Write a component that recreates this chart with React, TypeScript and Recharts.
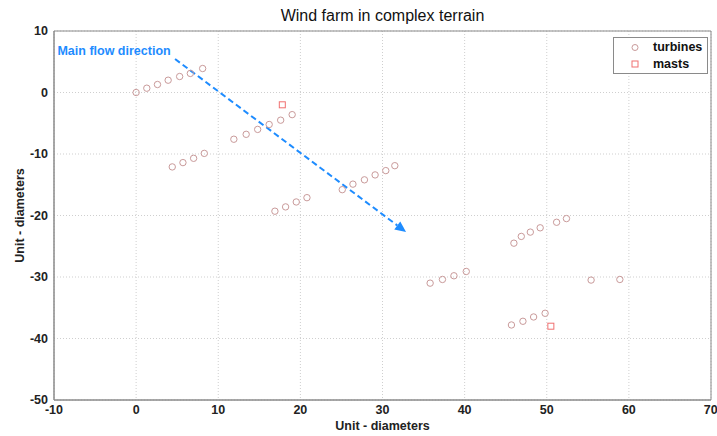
import React from 'react';
import {
  ScatterChart, Scatter, XAxis, YAxis, CartesianGrid, ReferenceLine, ReferenceDot,
  ReferenceArea, Legend,
} from 'recharts';

const turbineX = [
  0, 1.3, 2.6, 3.9, 5.3, 6.6, 8.1,
  4.4, 5.7, 7.0, 8.3,
  11.9, 13.4, 14.8, 16.2, 17.6, 19.0,
  16.9, 18.2, 19.5, 20.8,
  25.1, 26.4, 27.8, 29.1, 30.4, 31.5,
  35.8, 37.3, 38.7, 40.2,
  46.0, 46.9, 48.0, 49.2, 51.2, 52.4,
  55.4, 58.9,
  45.7, 47.1, 48.4, 49.8,
];
const turbineY = [
  0, 0.7, 1.3, 2.0, 2.6, 3.1, 3.9,
  -12.1, -11.4, -10.7, -9.9,
  -7.6, -6.8, -6.0, -5.2, -4.5, -3.6,
  -19.3, -18.6, -17.8, -17.1,
  -15.8, -14.9, -14.2, -13.4, -12.7, -11.9,
  -31.0, -30.4, -29.8, -29.1,
  -24.5, -23.4, -22.7, -22.0, -21.1, -20.5,
  -30.5, -30.4,
  -37.8, -37.2, -36.5, -35.9,
];
const mastX = [17.8, 50.5];
const mastY = [-2.0, -38.0];

const xTicks = [-10, 0, 10, 20, 30, 40, 50, 60, 70];
const yTicks = [-50, -40, -30, -20, -10, 0, 10];

const arrowStart = { x: 4.74, y: 5.45 };
const arrowEnd = { x: 32.87, y: -22.68 };
const flowLabel = { x: -9.7, y: 6.8, text: 'Main flow direction' };

const turbines = turbineX.map((x, i) => ({ x, y: turbineY[i] }));
const masts = mastX.map((x, i) => ({ x, y: mastY[i] }));

const FONT = 'Arial, "Liberation Sans", Helvetica, sans-serif';
const TURB = '#c99a9a';
const MAST = '#f07070';
const BLUE = '#1e8cff';
const AXIS = '#8a8a8a';
const FS = 12.5;

const TurbineShape = (p: any) => (
  <circle cx={p.cx} cy={p.cy} r={3.2} fill="none" stroke={TURB} strokeWidth={1} />
);
const MastShape = (p: any) => (
  <rect x={p.cx - 3} y={p.cy - 3} width={6} height={6} fill="none" stroke={MAST} strokeWidth={1} />
);

const ArrowShape = (p: any) => {
  const { x1, y1, x2, y2 } = p;
  if (x1 == null) return null;
  const ang = Math.atan2(y2 - y1, x2 - x1);
  const L = 11, W = 5;
  const bx = x2 - L * Math.cos(ang);
  const by = y2 - L * Math.sin(ang);
  const nx = -Math.sin(ang), ny = Math.cos(ang);
  return (
    <g>
      <line x1={x1} y1={y1} x2={bx} y2={by} stroke={BLUE} strokeWidth={2} strokeDasharray="6 3.5" />
      <polygon
        points={`${x2},${y2} ${bx + nx * W},${by + ny * W} ${bx - nx * W},${by - ny * W}`}
        fill={BLUE}
      />
    </g>
  );
};

const LegendBox = () => (
  <div style={{
    width: 95, height: 37, border: `1px solid ${AXIS}`, background: '#fff',
    fontFamily: FONT, fontSize: FS, fontWeight: 'bold', color: '#111', boxSizing: 'border-box',
    position: 'relative', textAlign: 'left',
  }}>
    <svg width={20} height={36} style={{ position: 'absolute', left: 15, top: 0 }}>
      <circle cx={6} cy={9.5} r={3} fill="none" stroke={TURB} />
      <rect x={3} y={23} width={6} height={6} fill="none" stroke={MAST} />
    </svg>
    <div style={{ position: 'absolute', left: 39, top: 1, lineHeight: '16px', whiteSpace: 'nowrap' }}>turbines</div>
    <div style={{ position: 'absolute', left: 39, top: 18, lineHeight: '16px', whiteSpace: 'nowrap' }}>masts</div>
  </div>
);

export default function App() {
  return (
    <div style={{ position: 'absolute', left: 0, top: 0, width: 717, height: 436, background: '#fff' }}>
      <div style={{
        position: 'absolute', left: 54, width: 657, top: 6, textAlign: 'center',
        fontFamily: FONT, fontSize: 16, color: '#111', lineHeight: '19px', zIndex: 2,
      }}>Wind farm in complex terrain</div>
      <ScatterChart width={717} height={436} margin={{ top: 31, right: 6, bottom: 6, left: 14 }}>
        <CartesianGrid stroke="#cfcfcf" strokeDasharray="1 2" />
        <XAxis
          type="number" dataKey="x" domain={[-10, 70]} ticks={xTicks} allowDataOverflow
          height={30} tickLine={false} tickSize={3} axisLine={{ stroke: AXIS }}
          tick={{ fontFamily: FONT, fontSize: FS, fontWeight: 'bold', fill: '#222' }}
          label={(props: any) => {
            const vb = props.viewBox;
            return (
              <text x={vb.x + vb.width / 2} y={vb.y + 29.5} textAnchor="middle"
                fontFamily={FONT} fontSize={FS} fontWeight="bold" fill="#222">Unit - diameters</text>
            );
          }}
        />
        <YAxis
          type="number" dataKey="y" domain={[-50, 10]} ticks={yTicks} allowDataOverflow
          width={40} tickLine={false} tickSize={4} axisLine={{ stroke: AXIS }}
          tick={{ fontFamily: FONT, fontSize: FS, fontWeight: 'bold', fill: '#222' }}
          label={(props: any) => {
            const vb = props.viewBox;
            const cx = 20, cy = vb.y + vb.height / 2;
            return (
              <text x={cx} y={cy} textAnchor="middle" dominantBaseline="central"
                transform={`rotate(-90 ${cx} ${cy})`}
                fontFamily={FONT} fontSize={FS} fontWeight="bold" fill="#222">Unit - diameters</text>
            );
          }}
        />
        <ReferenceArea x1={-10} x2={70} y1={-50} y2={10} fill="none" stroke={AXIS} strokeOpacity={1} fillOpacity={0} ifOverflow="visible" />
        <Scatter name="turbines" data={turbines} shape={TurbineShape} isAnimationActive={false} />
        <Scatter name="masts" data={masts} shape={MastShape} isAnimationActive={false} />
        <ReferenceLine segment={[arrowStart, arrowEnd]} shape={ArrowShape} ifOverflow="visible" />
        <ReferenceDot
          x={flowLabel.x} y={flowLabel.y} r={0} fill="none" stroke="none"
          label={{ value: flowLabel.text, position: 'right', offset: 1, fill: BLUE, fontFamily: FONT, fontSize: FS, fontWeight: 'bold' }}
        />
        <Legend
          layout="horizontal" verticalAlign="middle" align="center"
          content={<LegendBox />}
          wrapperStyle={{ position: 'absolute', left: 613, top: 37, width: 95, height: 37 }}
        />
      </ScatterChart>
    </div>
  );
}
